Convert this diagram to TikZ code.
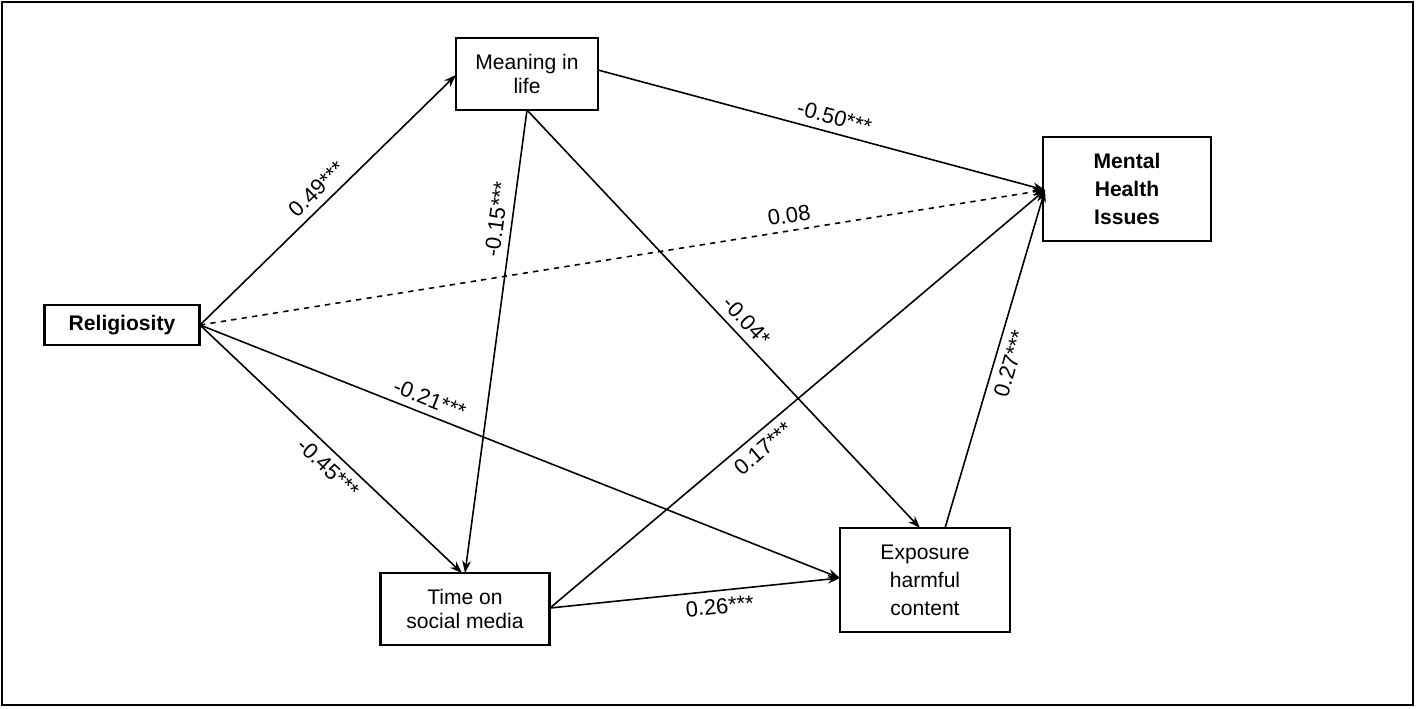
\documentclass[tikz,border=0pt]{standalone}
\usepackage{fontspec}
\setmainfont{Liberation Sans}
\usetikzlibrary{arrows.meta}
\begin{document}
\begin{tikzpicture}[x=0.02cm,y=-0.02cm,
  box/.style={draw,line width=1.2pt,align=center,font=\fontsize{12}{14}\selectfont,inner sep=0pt},
  arr/.style={-{Stealth[length=7pt,width=5pt]},line width=0.9pt},
  lab/.style={font=\fontsize{12.5}{14}\selectfont,sloped,inner sep=4pt}]
\draw[line width=0.6pt] (2,2) rectangle (1413,705);
\useasboundingbox (0,0) rectangle (1416,708);
\node[box,minimum width=155*0.02cm,minimum height=40*0.02cm,font=\fontsize{12}{14}\selectfont\bfseries] (rel) at (122,325) {Religiosity};
\node[box,minimum width=142*0.02cm,minimum height=72*0.02cm] (mil) at (527,74) {Meaning in\\life};
\node[box,minimum width=168*0.02cm,minimum height=104*0.02cm,font=\fontsize{12}{16}\selectfont\bfseries] (mhi) at (1127,189) {Mental\\Health\\Issues};
\node[box,minimum width=169*0.02cm,minimum height=72*0.02cm] (tsm) at (465,609) {Time on\\social media};
\node[box,minimum width=170*0.02cm,minimum height=104*0.02cm,font=\fontsize{12}{16}\selectfont] (exp) at (925,580) {Exposure\\harmful\\content};
\coordinate (relE) at (200,325);
\coordinate (mhiW) at (1045,190);
\coordinate (milS) at (527,110);
\coordinate (tsmE) at (550,608);
\draw[arr] (relE) -- (456,75) node[lab,above,pos=0.5] {0.49***};
\draw[arr] (598,70) -- (mhiW) node[lab,above,pos=0.52] {-0.50***};
\draw[arr,dashed] (relE) -- (mhiW) node[lab,above,pos=0.7] {0.08};
\draw[arr] (milS) -- (465,573) node[lab,above,pos=0.24] {-0.15***};
\draw[arr] (milS) -- (920,528) node[lab,above,pos=0.53] {-0.04*};
\draw[arr] (relE) -- (840,578) node[lab,above,pos=0.35] {-0.21***};
\draw[arr] (relE) -- (462,573) node[lab,below,pos=0.53] {-0.45***};
\draw[arr] (tsmE) -- (mhiW) node[lab,below,pos=0.41] {0.17***};
\draw[arr] (945,528) -- (mhiW) node[lab,below,pos=0.5] {0.27***};
\draw[arr] (tsmE) -- (840,578) node[lab,below,pos=0.58] {0.26***};
\end{tikzpicture}
\end{document}
